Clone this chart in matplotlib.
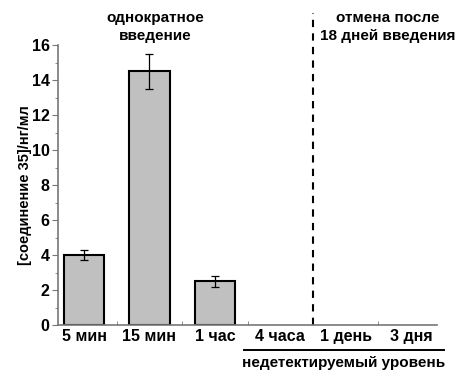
import numpy as np
import matplotlib
matplotlib.use('Agg')
import matplotlib.pyplot as plt

plt.rcParams['font.family'] = ['Liberation Sans', 'DejaVu Sans']
plt.rcParams['font.weight'] = 'bold'

labels = ['5 мин', '15 мин', '1 час', '4 часа', '1 день', '3 дня']
values = [4.0, 14.5, 2.5, 0, 0, 0]
errors = [0.3, 1.0, 0.3, 0, 0, 0]

fig = plt.figure(figsize=(4.62, 3.86), dpi=100)
ax = fig.add_axes([0.1255, 0.158, 0.8205, 0.725])

x = np.arange(len(labels))
n = 3
ax.bar(x[:n], values[:n], width=0.62, color='#c0c0c0', edgecolor='black', linewidth=1.5,
       yerr=errors[:n], capsize=3, error_kw=dict(elinewidth=0.9, capthick=0.9, ecolor='black'))

ax.set_xlim(-0.4, 5.4)
ax.set_ylim(0, 16)
ax.set_yticks(np.arange(0, 17, 2))
ax.set_yticks(np.arange(1, 16, 2), minor=True)
ax.set_xticks(x)
ax.set_xticklabels(labels, fontsize=11.5, fontweight='bold')
ax.set_xticks(np.arange(0.5, 5.0, 1), minor=True)
ax.tick_params(axis='x', which='major', length=0, pad=3)
ax.tick_params(axis='x', which='minor', length=3, direction='in', color='#777777')
ax.tick_params(axis='y', which='major', length=4, color='#777777', labelsize=11.5, pad=2)
ax.tick_params(axis='y', which='minor', length=2.5, color='#777777')
for lab in ax.get_yticklabels():
    lab.set_fontweight('bold')
for s in ['top', 'right']:
    ax.spines[s].set_visible(False)
for s in ['left', 'bottom']:
    ax.spines[s].set_color('#777777')
    ax.spines[s].set_linewidth(1.2)

ax.set_ylabel('[соединение 35]/нг/мл', fontsize=10.5, fontweight='bold', labelpad=0)

# dashed separator
ax.plot([3.5, 3.5], [0, 17.85], ls=(0, (3.5, 3)), color='black', lw=1.5, clip_on=False)

ax.text(1.09, 16.15, 'однократное\nвведение', ha='center', va='bottom', fontsize=11,
        fontweight='bold', linespacing=1.3)
ax.text(4.64, 16.15, 'отмена после\n18 дней введения', ha='center', va='bottom', fontsize=11,
        fontweight='bold', linespacing=1.3)

ax.plot([2.45, 5.5], [-1.45, -1.45], color='black', lw=1.4, clip_on=False)
ax.text(3.97, -1.75, 'недетектируемый уровень', ha='center', va='top', fontsize=11,
        fontweight='bold')

fig.savefig('out.png', dpi=100)
